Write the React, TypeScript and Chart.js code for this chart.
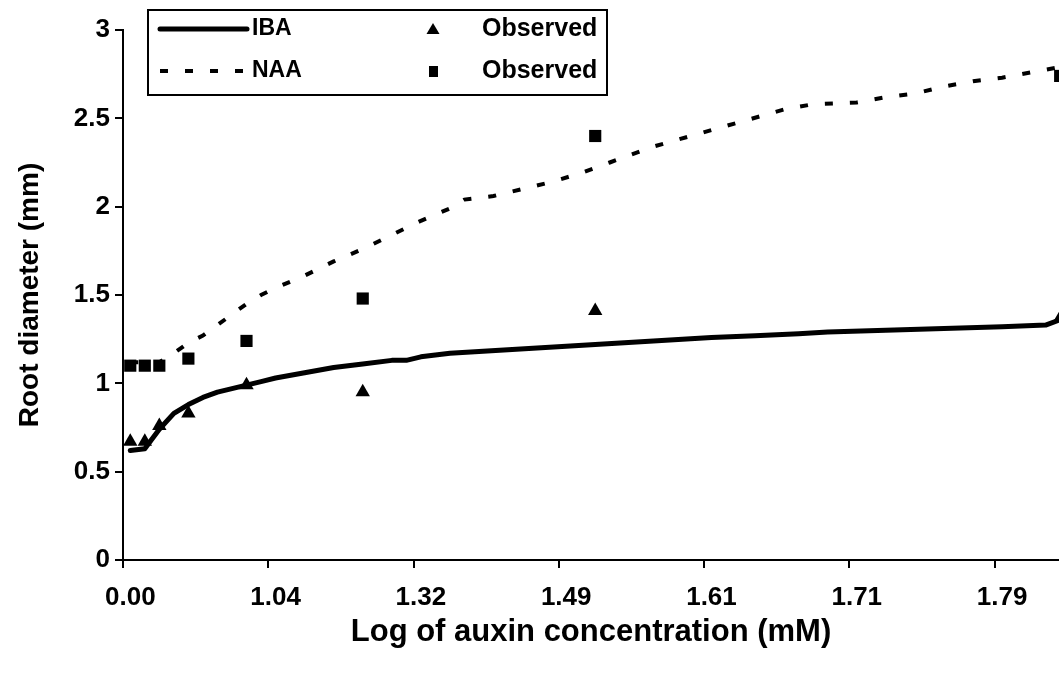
import React, { useEffect, useRef } from 'react';
import { Chart, registerables } from 'chart.js';

Chart.register(...registerables);

// x-axis: categories (0-based index); a label is shown every 10th category
const X_TICK_CATS = [0, 10, 20, 30, 40, 50, 60];
const X_TICK_LABELS = ['0.00', '1.04', '1.32', '1.49', '1.61', '1.71', '1.79'];
const Y_TICK_LABELS = ['0', '0.5', '1', '1.5', '2', '2.5', '3'];

// fitted IBA curve
const IBA_CATS = [0, 1, 2, 3, 4, 5, 6, 8, 9, 10, 12, 14, 16, 18, 19, 20, 22, 24, 26, 28, 30, 32, 34, 36, 38, 40, 43, 46, 48, 52, 56, 60, 63, 64];
const IBA_VALUES = [0.62, 0.63, 0.74, 0.83, 0.88, 0.92, 0.95, 0.99, 1.01, 1.03, 1.06, 1.09, 1.11, 1.13, 1.13, 1.15, 1.17, 1.18, 1.19, 1.2, 1.21, 1.22, 1.23, 1.24, 1.25, 1.26, 1.27, 1.28, 1.29, 1.3, 1.31, 1.32, 1.33, 1.36];

// fitted NAA curve
const NAA_CATS = [0, 1, 2, 3, 4, 5, 6, 7, 8, 9, 10, 12, 14, 16, 18, 20, 22, 23, 25, 27, 29, 31, 33, 36, 39, 42, 45, 47, 50, 52, 54, 56, 58, 60, 62, 64];
const NAA_VALUES = [1.12, 1.12, 1.12, 1.17, 1.23, 1.27, 1.33, 1.39, 1.45, 1.5, 1.54, 1.61, 1.69, 1.76, 1.84, 1.92, 1.99, 2.04, 2.06, 2.1, 2.14, 2.19, 2.25, 2.34, 2.41, 2.48, 2.55, 2.58, 2.59, 2.62, 2.64, 2.68, 2.71, 2.73, 2.76, 2.79];

// observed values
const OBS_CATS = [0, 1, 2, 4, 8, 16, 32, 64];
const OBS_IBA = [0.67, 0.67, 0.76, 0.83, 0.99, 0.95, 1.41, 1.37];
const OBS_NAA = [1.1, 1.1, 1.1, 1.14, 1.24, 1.48, 2.4, 2.74];

const SERIES_NAMES = ['IBA', 'NAA', 'Observed', 'Observed'];
const Y_TITLE = 'Root diameter (mm)';
const X_TITLE = 'Log of auxin concentration (mM)';

const FONT = "'Liberation Sans', Arial, sans-serif";
const NAA_DASH = [8, 17];

const toPts = (cats: number[], vals: number[]) => cats.map((c, i) => ({ x: c, y: vals[i] }));

const legendPlugin = {
  id: 'boxLegend',
  afterDraw(chart: any) {
    const ctx = chart.ctx as CanvasRenderingContext2D;
    ctx.save();
    const bx = 148, by = 10, bw = 459, bh = 85;
    ctx.fillStyle = '#ffffff';
    ctx.fillRect(bx, by, bw, bh);
    ctx.strokeStyle = '#000';
    ctx.lineWidth = 2;
    ctx.strokeRect(bx, by, bw, bh);
    const r1 = 29, r2 = 71;
    // IBA sample
    ctx.lineCap = 'round';
    ctx.lineWidth = 5;
    ctx.beginPath();
    ctx.moveTo(160, r1);
    ctx.lineTo(247, r1);
    ctx.stroke();
    // NAA sample
    ctx.lineCap = 'butt';
    ctx.lineWidth = 4;
    ctx.setLineDash(NAA_DASH);
    ctx.beginPath();
    ctx.moveTo(160, r2);
    ctx.lineTo(248, r2);
    ctx.stroke();
    ctx.setLineDash([]);
    // markers
    ctx.fillStyle = '#000';
    ctx.beginPath();
    ctx.moveTo(433, r1 - 6);
    ctx.lineTo(439.5, r1 + 5);
    ctx.lineTo(426.5, r1 + 5);
    ctx.closePath();
    ctx.fill();
    ctx.fillRect(429, r2 - 5, 9, 11);
    // texts
    ctx.textBaseline = 'middle';
    ctx.textAlign = 'left';
    ctx.font = `bold 23px ${FONT}`;
    ctx.fillText(SERIES_NAMES[0], 252, r1);
    ctx.fillText(SERIES_NAMES[1], 252, r2);
    ctx.font = `bold 25px ${FONT}`;
    ctx.fillText(SERIES_NAMES[2], 482, r1);
    ctx.fillText(SERIES_NAMES[3], 482, r2);
    ctx.restore();
  },
};

export default function App() {
  const ref = useRef<HTMLCanvasElement | null>(null);
  useEffect(() => {
    if (!ref.current) return;
    const chart = new Chart(ref.current, {
      type: 'line',
      data: {
        datasets: [
          {
            label: SERIES_NAMES[0],
            data: toPts(IBA_CATS, IBA_VALUES),
            borderColor: '#000',
            borderWidth: 5,
            pointRadius: 0,
            tension: 0,
            borderJoinStyle: 'round',
            borderCapStyle: 'round',
            clip: false,
          },
          {
            label: SERIES_NAMES[1],
            data: toPts(NAA_CATS, NAA_VALUES),
            borderColor: '#000',
            borderWidth: 4,
            borderDash: NAA_DASH,
            pointRadius: 0,
            tension: 0,
            clip: false,
          },
          {
            label: SERIES_NAMES[2],
            data: toPts(OBS_CATS, OBS_IBA),
            showLine: false,
            pointStyle: 'triangle',
            pointRadius: 8.3,
            backgroundColor: '#000',
            borderColor: '#000',
            borderWidth: 0,
            clip: false,
          },
          {
            label: SERIES_NAMES[3],
            data: toPts(OBS_CATS, OBS_NAA),
            showLine: false,
            pointStyle: 'rect',
            pointRadius: 8.6,
            backgroundColor: '#000',
            borderColor: '#000',
            borderWidth: 0,
            clip: false,
          },
        ],
      },
      options: {
        responsive: false,
        animation: false,
        events: [],
        layout: { autoPadding: false, padding: { top: 30, left: 0, right: 0, bottom: 0 } },
        plugins: { legend: { display: false }, tooltip: { enabled: false } },
        scales: {
          x: {
            type: 'linear',
            min: -0.5,
            max: 63.92,
            afterBuildTicks: (axis: any) => {
              axis.ticks = X_TICK_CATS.map((c) => ({ value: c - 0.5 }));
            },
            afterFit: (scale: any) => {
              scale.height = 115;
            },
            grid: {
              drawOnChartArea: false,
              drawTicks: true,
              tickLength: 8,
              color: '#000',
              lineWidth: 2,
            },
            border: { display: true, color: '#000', width: 2 },
            ticks: {
              autoSkip: false,
              maxRotation: 0,
              labelOffset: 7.3,
              padding: 14,
              color: '#000',
              font: { family: FONT, size: 26, weight: 'bold' },
              callback: (_v: any, i: number) => X_TICK_LABELS[i],
            },
            title: {
              display: true,
              text: X_TITLE,
              color: '#000',
              font: { family: FONT, size: 31, weight: 'bold' },
              padding: { top: 0, bottom: 24 },
            },
          },
          y: {
            type: 'linear',
            min: 0,
            max: 3,
            afterFit: (scale: any) => {
              scale.width = 123;
            },
            grid: {
              drawOnChartArea: false,
              drawTicks: true,
              tickLength: 8,
              color: '#000',
              lineWidth: 2,
            },
            border: { display: true, color: '#000', width: 2 },
            ticks: {
              stepSize: 0.5,
              padding: 5,
              color: '#000',
              font: { family: FONT, size: 26, weight: 'bold' },
              callback: (_v: any, i: number) => Y_TICK_LABELS[i],
            },
            title: {
              display: true,
              text: Y_TITLE,
              color: '#000',
              font: { family: FONT, size: 28, weight: 'bold' },
              padding: { top: 13, bottom: 0 },
            },
          },
        },
      },
      plugins: [legendPlugin],
    } as any);
    return () => chart.destroy();
  }, []);

  return (
    <div style={{ position: 'fixed', left: 0, top: 0, width: 1059, height: 675, background: '#fff' }}>
      <canvas ref={ref} width={1059} height={675} style={{ display: 'block' }} />
    </div>
  );
}
